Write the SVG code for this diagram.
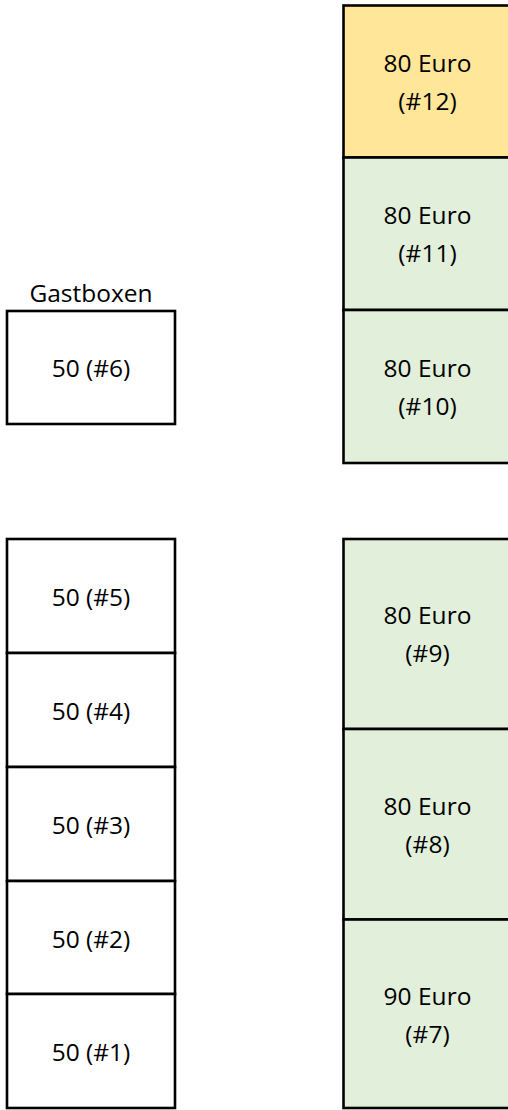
<svg xmlns="http://www.w3.org/2000/svg" width="508" height="1110" viewBox="0 0 508 1110">
<style>
.b{stroke:#000;stroke-width:2.6;}
.w{fill:#fff;}
.g{fill:#E2EFDA;}
.y{fill:#FFE699;}
text{font-family:"Open Sans","Liberation Sans",sans-serif;font-size:24.5px;fill:#000;text-anchor:middle;dominant-baseline:central;}
</style>
<rect width="508" height="1110" fill="#fff"/>
<text x="91" y="292">Gastboxen</text>
<g id="box6"><rect class="b w" x="7" y="311" width="168" height="113"/><text x="91" y="367.5">50 (#6)</text></g>
<g id="box5"><rect class="b w" x="7" y="539" width="168" height="114"/><text x="91" y="596">50 (#5)</text></g>
<g id="box4"><rect class="b w" x="7" y="653" width="168" height="114"/><text x="91" y="710">50 (#4)</text></g>
<g id="box3"><rect class="b w" x="7" y="767" width="168" height="114"/><text x="91" y="824">50 (#3)</text></g>
<g id="box2"><rect class="b w" x="7" y="881" width="168" height="113"/><text x="91" y="938">50 (#2)</text></g>
<g id="box1"><rect class="b w" x="7" y="994" width="168" height="114"/><text x="91" y="1051">50 (#1)</text></g>
<g id="box12"><rect class="b y" x="343.5" y="5.5" width="170" height="152"/><text x="427.5" y="62.5">80 Euro</text><text x="427.5" y="100.5">(#12)</text></g>
<g id="box11"><rect class="b g" x="343.5" y="157.5" width="170" height="152.5"/><text x="427.5" y="214.5">80 Euro</text><text x="427.5" y="252.5">(#11)</text></g>
<g id="box10"><rect class="b g" x="343.5" y="310" width="170" height="153"/><text x="427.5" y="367">80 Euro</text><text x="427.5" y="405">(#10)</text></g>
<g id="box9"><rect class="b g" x="343.5" y="539" width="170" height="190"/><text x="427.5" y="614.5">80 Euro</text><text x="427.5" y="652.5">(#9)</text></g>
<g id="box8"><rect class="b g" x="343.5" y="729" width="170" height="190.5"/><text x="427.5" y="805">80 Euro</text><text x="427.5" y="843">(#8)</text></g>
<g id="box7"><rect class="b g" x="343.5" y="919.5" width="170" height="188.5"/><text x="427.5" y="995">90 Euro</text><text x="427.5" y="1033">(#7)</text></g>
<g id="connectors"></g>
</svg>
